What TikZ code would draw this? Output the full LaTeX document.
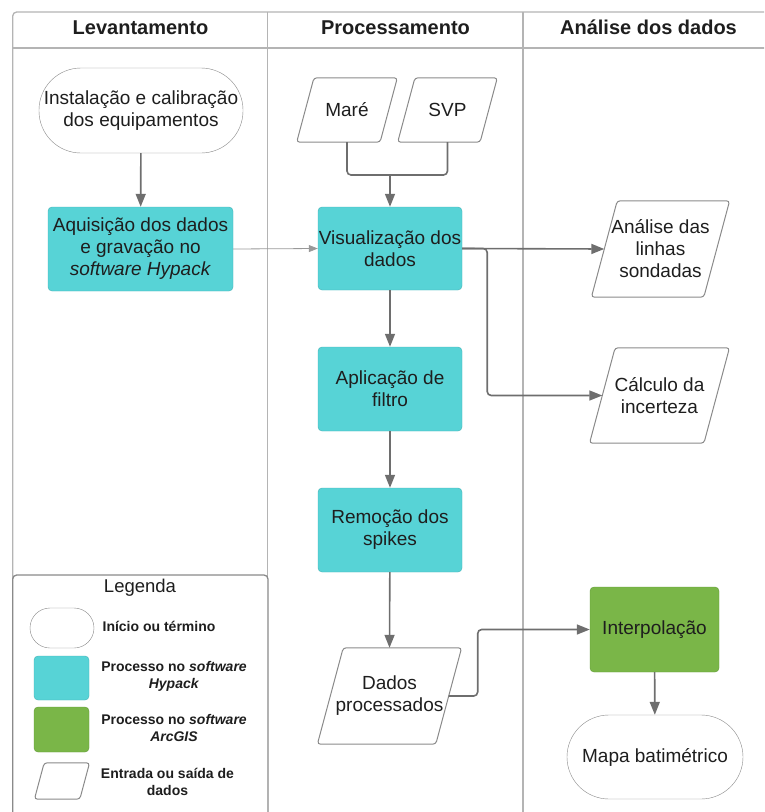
\documentclass[tikz,border=0pt]{standalone}
\usepackage{fontspec}
\setmainfont{Liberation Sans}
\usetikzlibrary{shapes.geometric,arrows.meta,positioning,calc}

\definecolor{ciano}{HTML}{57D3D6}
\definecolor{cianoborda}{HTML}{45B3B7}
\definecolor{verde}{HTML}{7AB648}
\definecolor{verdeborda}{HTML}{629A37}
\definecolor{bordacinza}{HTML}{8A8A8A}
\definecolor{linhacinza}{HTML}{B4B4B4}
\definecolor{setacinza}{HTML}{6E6E6E}
\definecolor{textocor}{HTML}{1E1E1E}

\newcommand{\corpo}{\fontsize{19}{22}\selectfont}
\newcommand{\legtexto}{\fontsize{14}{17}\selectfont\bfseries}

\tikzset{
    raia/.style={draw=linhacinza, line width=1.3pt},
    titulo/.style={anchor=base, font=\fontsize{20}{24}\selectfont\bfseries},
    caixa/.style={rectangle, draw=cianoborda, fill=ciano, rounded corners=4pt,
        minimum width=144pt, minimum height=84pt, inner sep=0pt, align=center, font=\corpo},
    caixaverde/.style={caixa, draw=verdeborda, fill=verde},
    terminal/.style={rectangle, draw=bordacinza, fill=white, rounded corners=40pt,
        inner sep=0pt, align=center, font=\corpo},
    % paralelogramo: o retangulo tem a largura media, o contorno inclinado vem depois
    dado/.style={rectangle, inner sep=0pt, align=center, font=\corpo,
        append after command={\pgfextra{
            \draw[draw=bordacinza, line width=1pt, rounded corners=3pt]
                let \p1=(\tikzlastnode.north east), \p2=(\tikzlastnode.south west),
                    \n1={0.134*(\y1-\y2)} in
                ([xshift=\n1]\tikzlastnode.north west) -- ([xshift=\n1]\tikzlastnode.north east)
                -- ([xshift=-\n1]\tikzlastnode.south east) -- ([xshift=-\n1]\tikzlastnode.south west)
                -- cycle;
        }}},
    conector/.style={draw=setacinza, line width=1.6pt, rounded corners=4pt},
    seta/.style={conector, -{Triangle[length=13pt,width=10pt]}},
    setafina/.style={draw=linhacinza!85!black, line width=0.8pt, -{Triangle[length=9pt,width=7pt]}}
}

\begin{document}
\begin{tikzpicture}[x=1pt, y=-1pt, every node/.append style={text=textocor}]
    \clip (0,0) rectangle (764,812);

    % Raias
    \draw[raia, rounded corners=4pt] (780,12) -- (12.7,12) -- (12.7,600);
    \draw[raia] (12.7,48) -- (780,48);
    \foreach \x in {267.5, 523} {
        \draw[raia] (\x,12) -- (\x,830);
    }
    \node[titulo] (levant) at (140.5,34) {Levantamento};
    \node[titulo] (process) at (395.5,34) {Processamento};
    \node[titulo] (analise) at (648.5,34) {Análise dos dados};

    % Levantamento
    \node[terminal, minimum width=204pt, minimum height=85pt, rounded corners=42pt] (inst) at (141,110.5)
        {Instalação e calibração\\dos equipamentos};
    \node[caixa, minimum width=185pt] (aqui) at (140.5,249)
        {Aquisição dos dados\\e gravação no\\\textit{software Hypack}};

    % Processamento
    \node[dado, minimum width=83pt, minimum height=64pt] (mare) at (347,110) {Maré};
    \node[dado, minimum width=82pt, minimum height=64pt] (svp) at (447.5,110) {SVP};
    \coordinate (juncao) at (390,175);
    \node[caixa, minimum height=83pt] (visu) at (390,248.5) {Visualização dos\\dados};
    \node[caixa] (apli) at (390,389) {Aplicação de\\filtro};
    \node[caixa] (remo) at (390,530) {Remoção dos\\spikes};
    \node[dado, minimum width=118pt, minimum height=96pt] (dados) at (389.5,696) {Dados\\processados};

    % Analise dos dados
    \node[dado, minimum width=112pt, minimum height=96pt] (linhas) at (660.5,249)
        {Análise das\\linhas\\sondadas};
    \node[dado, minimum width=114pt, minimum height=95pt] (incert) at (659.5,395.5)
        {Cálculo da\\incerteza};
    \node[caixaverde, minimum width=129pt, minimum height=85pt] (interp) at (654.5,629.5) {Interpolação};
    \node[terminal, minimum width=176pt, minimum height=84pt, rounded corners=42pt] (mapa) at (655,757)
        {Mapa batimétrico};

    % Conectores
    \draw[seta] (inst) -- (aqui);
    \draw[setafina] (aqui.east) -- (visu.west);
    \draw[conector] (mare.south) |- (juncao) -| (svp.south);
    \draw[seta] (juncao) -- (visu.north);
    \draw[seta] (visu) -- (apli);
    \draw[seta] (apli) -- (remo);
    \draw[seta] (remo) -- (dados.north);
    \draw[seta] (visu.east) -- (linhas.west);
    \draw[seta] (visu.east) -- ++(25,0) |- (incert.west);
    \draw[seta] (dados.east) -- ++(29,0) |- (interp.west);
    \draw[seta] (interp) -- (mapa);

    % Legenda
    \draw[raia, draw=bordacinza, fill=white, rounded corners=4pt] (12.7,830) -- (12.7,575) -- (268,575) -- (268,830);
    \node[font=\fontsize{18.5}{22}\selectfont] (legenda) at (140,588) {Legenda};
    \node[terminal, minimum width=64pt, minimum height=40pt, rounded corners=20pt] (legterm) at (62,628) {};
    \node[caixa, minimum width=55pt, minimum height=44pt] (legciano) at (61.5,678) {};
    \node[caixaverde, minimum width=55pt, minimum height=45pt] (legverde) at (61.5,729.5) {};
    \node[dado, minimum width=45pt, minimum height=36pt] (legdado) at (62,781) {};
    \node[font=\legtexto, align=center] (txtterm) at (159,626) {Início ou término};
    \node[font=\legtexto, align=center] (txtciano) at (174,676.5) {Processo no \textit{software}\\\textit{Hypack}};
    \node[font=\legtexto, align=center] (txtverde) at (174,728) {Processo no \textit{software}\\\textit{ArcGIS}};
    \node[font=\legtexto, align=center] (txtdado) at (167.5,782) {Entrada ou saída de\\dados};
\end{tikzpicture}
\end{document}
